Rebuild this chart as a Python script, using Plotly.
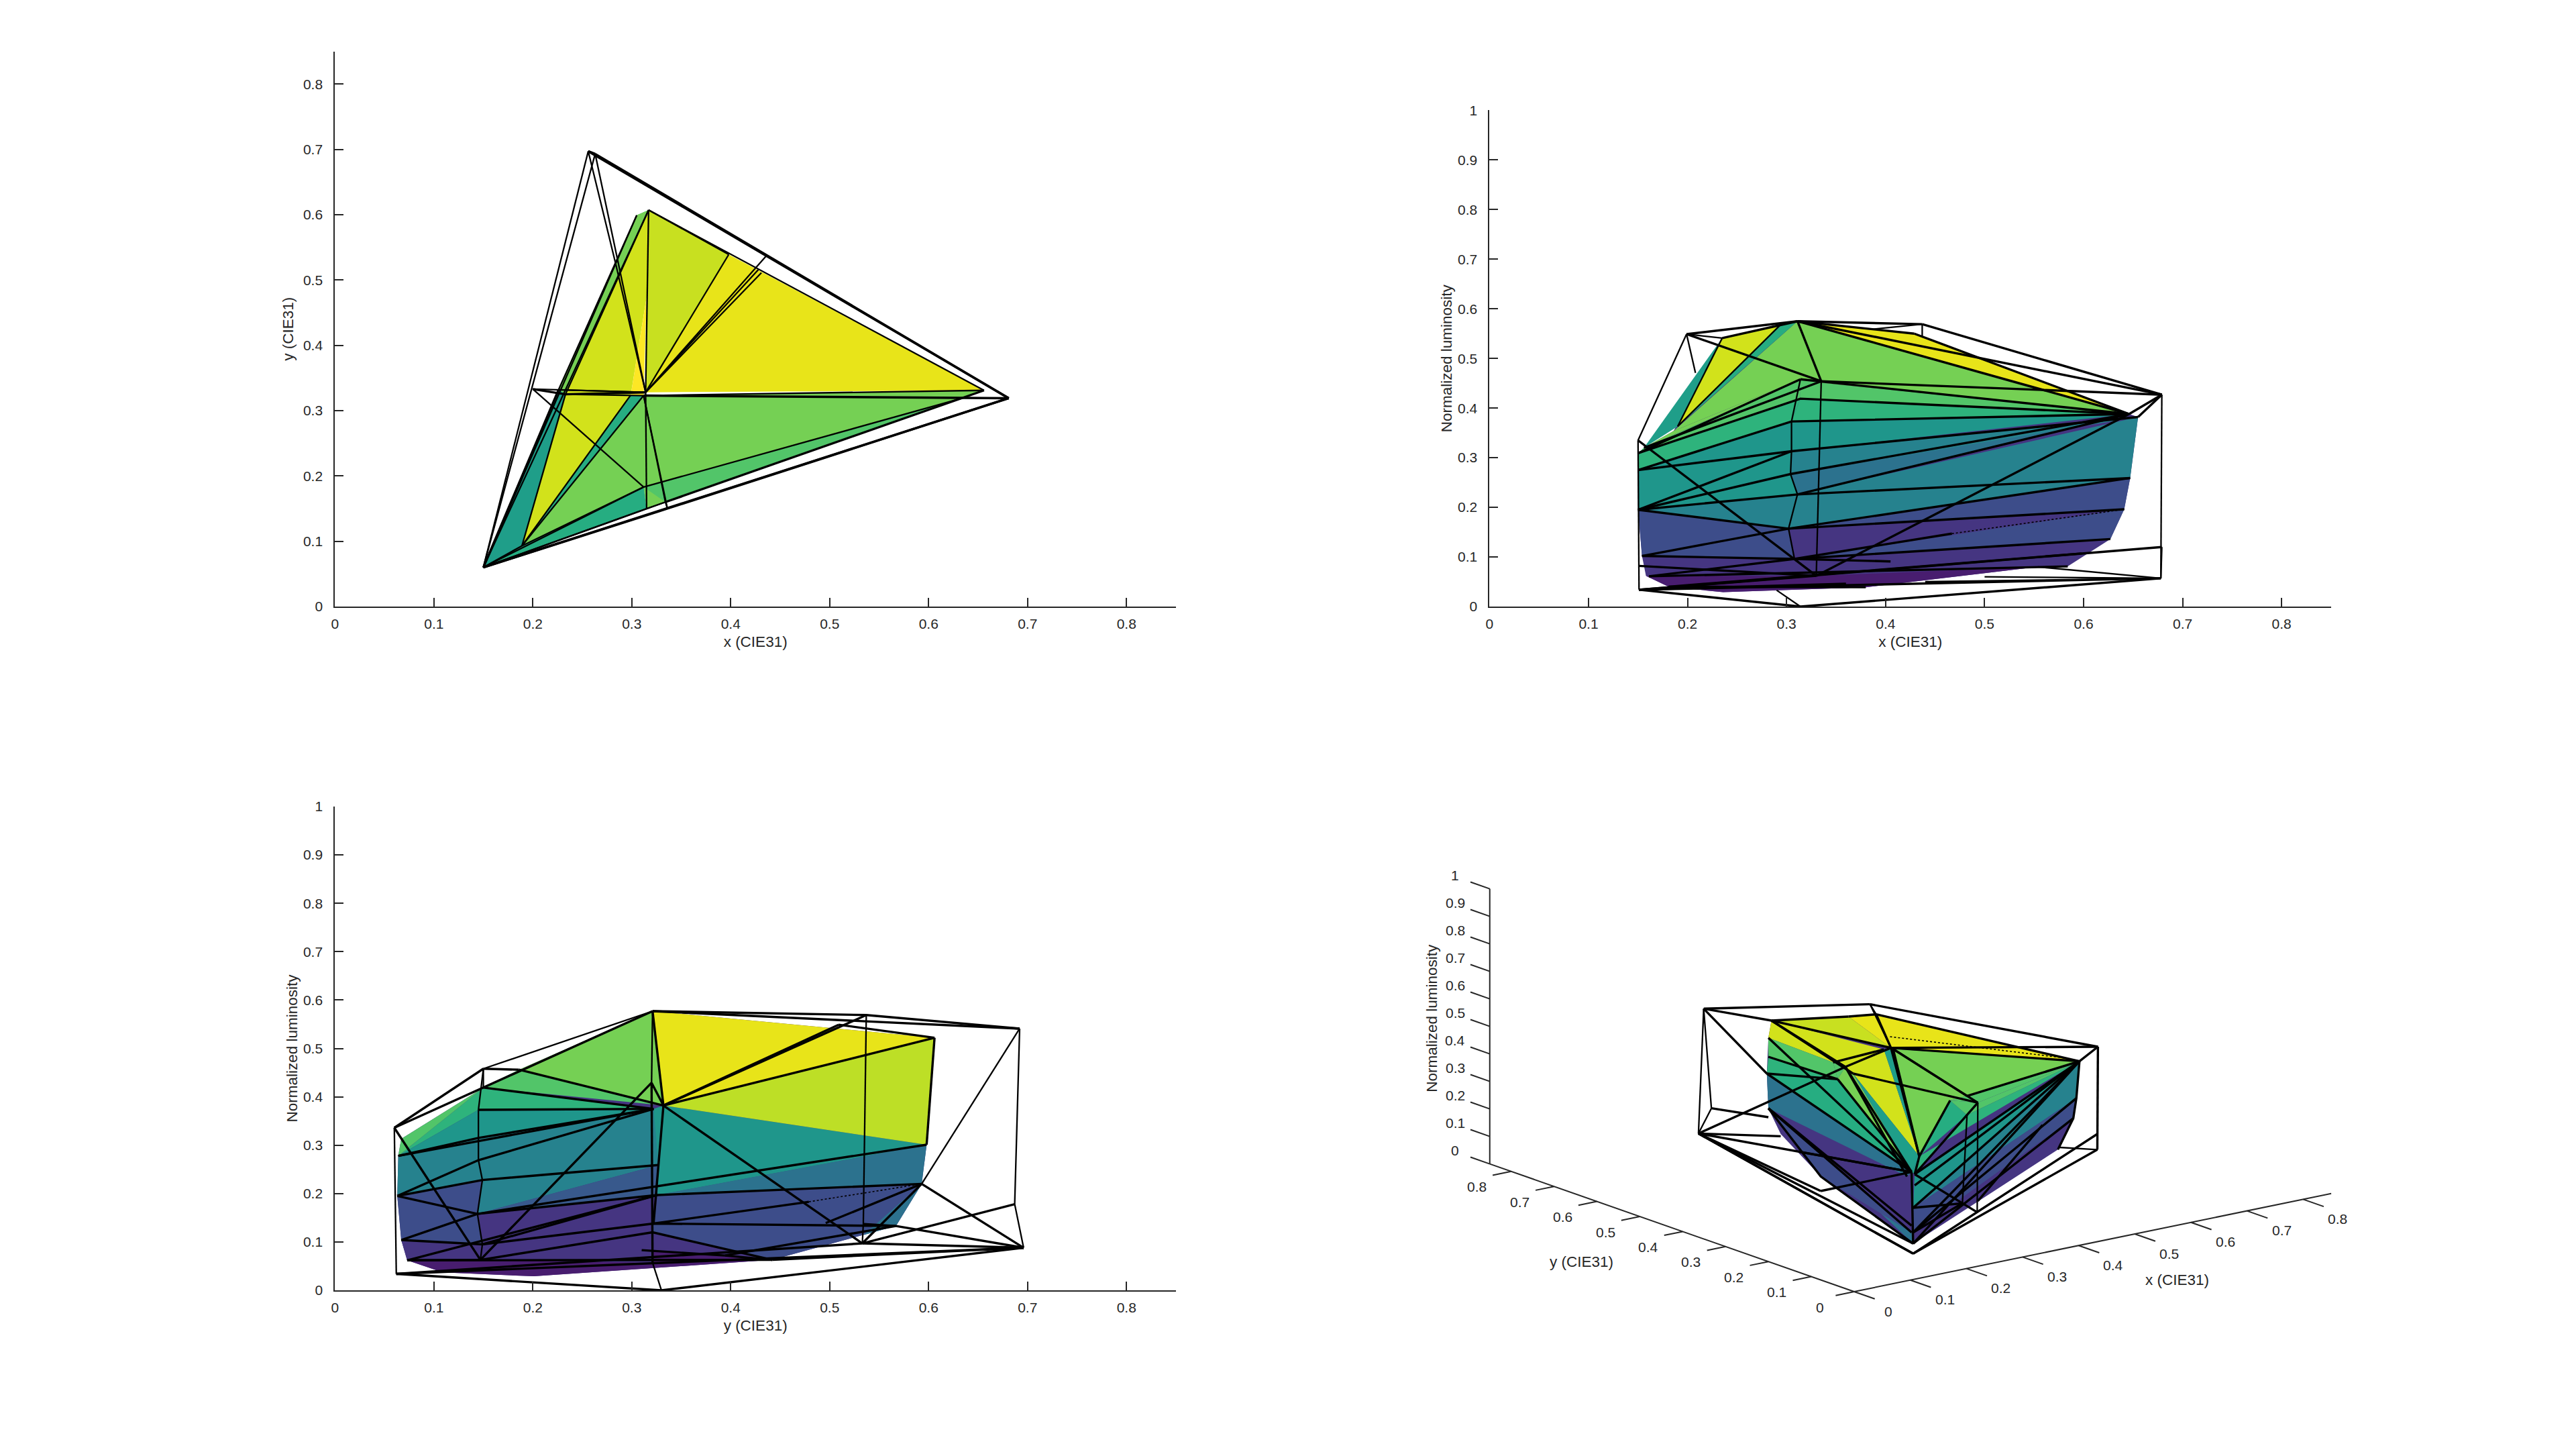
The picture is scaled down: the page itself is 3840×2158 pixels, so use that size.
import plotly.graph_objects as go

# Viridis steps used for the flat-shaded faces, indexed by face level.
face_palette = ["#481d6f", "#453581", "#3d4d8a", "#38598c", "#2c728e", "#26828e", "#1f968b", "#1f9e89",
                "#26ad81", "#2eb37c", "#52c569", "#75d054", "#bddf26", "#c8e020", "#d2e21b", "#e8e419", "#fde725"]

tick_values = [0, 0.1, 0.2, 0.3, 0.4, 0.5, 0.6, 0.7, 0.8]
luminosity_ticks = [0, 0.1, 0.2, 0.3, 0.4, 0.5, 0.6, 0.7, 0.8, 0.9, 1]

# ---- x/y chromaticity view ----
xy_points = {
    "B": (.150, .060), "B2": (.189, .093), "Ga": (.256, .697), "Gb": (.263, .693), "Gi": (.317, .607),
    "Gj": (.305, .599), "Gk": (.284, .523), "R": (.681, .319), "Ri": (.656, .331), "Rj": (.634, .319),
    "Wo": (.314, .328), "Wi": (.312, .323), "Yo": (.436, .537), "Yi": (.428, .516), "Yj": (.431, .511),
    "Yk": (.398, .539), "Co": (.200, .333), "Ci": (.233, .325), "Cj": (.226, .332), "Cv": (.299, .324),
    "Mo": (.336, .150), "Mi": (.334, .160), "Mj": (.315, .150), "Mk": (.312, .183), "Sy": (.315, .474),
}
xy_faces = [
    (7, "B Cj Gj Gi Ci B2"), (11, "Cj Gj Gi Ci"), (14, "B2 Ci Cv"), (8, "B2 Cv Wi"), (14, "Ci Gi Sy Cv"),
    (16, "Cv Sy Wi"), (13, "Gi Yk Wo Sy"), (15, "Yk Ri Wo"), (11, "Wi Ri Rj Mk B2"), (10, "Mk Rj Ri Mi Mj"),
    (11, "Mk Mi Mj"), (8, "B2 Mk Mj B"),
]
xy_thin = [
    "B Ga", "B Gb", "Ga Gk Wo", "Gb Wo", "Ga Gb", "Co Wo", "Co Mk", "Yo Wo", "Yi Wo", "Yj Wo", "Yk Wo", "Gi Wo",
    "Gi Ri", "Ri Wi", "Wi B2", "Cv B2", "Ci B2", "Ci Wi", "Cj Wo", "Wi Mi", "Wo Mj", "Wi Mo", "Mk Rj", "Mk B2",
    "B Mj", "B Mi", "B Mk", "Gi B", "Gj B", "Ci Gi", "Mj Mi", "Mi Mo", "Yk Gi", "B2 B", "Cj Gj",
]
xy_heavy = ["Gb R", "Ga Gb", "Ga Yo R", "Mo R", "R B", "Wi R", "Mi Ri", "Co Ci", "B Mo", "B Cj", "Ci Wo"]

# ---- x/luminosity view ----
xl_points = {
    "Bt": (.150, .335), "Bb": (.151, .034), "Cy": (.199, .549), "Wt": (.311, .575), "Yo": (.437, .569),
    "Ro": (.679, .427), "Rb": (.678, .057), "K": (.314, .000), "Rm": (.679, .120), "Gz": (.208, .471),
    "Yz": (.387, .559), "Yy": (.437, .545), "Kq": (.290, .033), "b": (.295, .570), "c": (.235, .541),
    "d": (.190, .363), "d2": (.186, .354), "e1": (.156, .320), "f": (.150, .309), "g": (.150, .275),
    "h": (.150, .195), "i": (.154, .102), "j": (.158, .062), "k": (.181, .040), "l": (.236, .029),
    "m": (.380, .039), "n": (.554, .080), "n2": (.584, .081), "o": (.627, .136), "p": (.641, .196),
    "q": (.647, .259), "r": (.655, .382), "s": (.646, .388), "t": (.429, .550), "v1": (.314, .458),
    "v2": (.335, .454), "v2b": (.335, .451), "v3": (.314, .419), "v4": (.305, .373), "v5": (.305, .313),
    "v6": (.304, .267), "v7": (.311, .226), "v8": (.302, .157), "v9": (.308, .096), "v10": (.330, .062),
    "i2": (.151, .082), "i3": (.161, .061), "x9": (.405, .091), "l2": (.598, .107), "w1": (.467, .147),
    "f1": (.500, .060), "f2": (.440, .050), "f3": (.360, .046),
}
xl_faces = [
    (1, "j k l m n n2 o p q r s t Wt b c d2 e1 f g h i"), (0, "j k l m n v10"), (2, "v9 p o"), (2, "h v8 v9 i"),
    (2, "v8 q p"), (5, "h v7 v8"), (5, "v7 q v8"), (5, "v7 r q"), (4, "v6 s v7"), (6, "h v6 v7"), (5, "v5 r v6"),
    (6, "g v5 v6 h"), (6, "v4 s v5"), (6, "g v4 v5"), (9, "v3 s v4"), (9, "f v3 v4 g"), (10, "v1 v2b s v3"),
    (10, "e1 v1 v3 f"), (11, "Wt s v2b v1 d2"), (11, "d2 v1 e1"), (8, "b Wt d"), (14, "c b d"), (7, "c d e1"),
    (15, "Wt t s"),
]
xl_thin = [
    "Bt Cy", "Cy Gz", "Yz Yo", "Yo Yy", "Bb Bt", "v1 v4 v5 v6 v7 v8 v9 v10", "v2 v10", "Kq K", "Rm Rb", "Ro Rb",
    "c Cy", "b d", "c d", "f1 Rb", "f2 Rb", "n Rb",
]
xl_heavy = [
    "Cy Wt", "Wt Yo", "Yo Ro", "Rb K", "K Bb", "Cy v2", "v2 Ro", "Wt v2", "Wt s", "Wt Ro", "Bt v10", "v10 s", "s Ro",
    "r Ro", "v2 e1", "f v3 s", "v1 s", "f v1", "g v4 s", "g v5 r", "h v5", "h v6 s", "h v7 s", "v7 q", "h v8 q",
    "i v8 p", "i v9 x9", "v9 o", "i3 n2", "Bb Rb", "Bb Rm", "Bb v10", "k m", "c Wt", "Wt t", "t s", "i2 v10", "v9 w1",
    "i3 v9", "k l2", "Bb f3",
]
xl_dotted = ["w1 p"]

# ---- y/luminosity view ----
yl_points = {
    "Bt": (.060, .336), "Bb": (.062, .034), "Ma": (.150, .458), "Wt": (.321, .577), "Yo": (.537, .569),
    "Go": (.692, .541), "Gb": (.696, .088), "K": (.330, .000), "Mb": (.533, .097), "Gm": (.687, .178),
    "Ym": (.534, .137), "Yi": (.509, .549), "Gi": (.606, .522), "S": (.332, .382), "S2": (.322, .375),
    "Gj": (.598, .301), "Gk": (.593, .220), "Gl": (.567, .133), "Gq": (.442, .063), "b1": (.201, .029),
    "b2": (.109, .037), "b3": (.073, .062), "b4": (.067, .104), "b5": (.063, .195), "b6": (.064, .278),
    "b7": (.067, .313), "m1": (.150, .419), "m2": (.186, .456), "m3": (.145, .373), "m4": (.145, .315),
    "m5": (.145, .269), "m6": (.149, .228), "m7": (.144, .158), "m8": (.149, .095), "m9": (.147, .063),
    "c1": (.320, .429), "c2": (.327, .259), "c3": (.326, .197), "c4": (.322, .138), "c5": (.321, .120),
    "c6": (.310, .083), "c7": (.321, .057), "Mc": (.534, .114), "c4m": (.479, .183), "Yn": (.496, .139),
    "z1": (.394, .072),
}
yl_faces = [
    (1, "Wt Gi Gj Gk Gl Gq b1 b2 b3 b4 b5 b6 b7 m1 m2"), (0, "b3 c6 Gq b1 b2"), (2, "c4 Gk Gl Gq c5"), (2, "c3 Gk c4"),
    (4, "c3 Gj Gk"), (4, "Gk Gl Mc"), (6, "S Gj c3 S2"), (12, "S Gi Gj"), (15, "Wt Gi S"), (11, "m2 Wt S"),
    (10, "m2 S m1"), (9, "m1 S2 m3 b6"), (10, "m1 b6 b7"), (6, "m3 S2 m4 b6"), (5, "m4 S2 m5 b5 b6"), (5, "m5 S2 c2 m6"),
    (5, "b5 m5 m6"), (5, "m6 c2 m7"), (3, "c2 c3 m7"), (2, "b5 m6 m7 m8 b4"), (1, "m7 c3 c5 m8"), (2, "c3 c4 c5"),
    (1, "b4 m8 m9 b3"), (1, "c5 c7 m9 m8"),
]
yl_thin = ["Bt Bb", "Ma m1", "Ym Yo", "Mb Ym", "Go Gm Gb", "Go Gk", "Ma m3 m4 m5 m6 m7 m8 m9", "K c7", "Wt c1", "Ma Wt"]
yl_heavy = [
    "Bt Ma", "Bt Wt", "Wt Yo Go", "Wt Go", "Gb K", "K Bb", "Wt S", "Yo S", "Yi S", "Gi S", "c1 S", "m2 S", "m1 S2",
    "m3 S2", "b6 S2", "b6 m4", "m4 S2", "b5 m5 S2", "b5 m6 c2", "m7 c3 Gk", "b5 m7", "m7 Gj", "b4 m8", "b4 m7",
    "m8 c4 Gl", "m8 c3", "m9 c5 Gq", "b3 c3", "b3 m9", "c1 c7", "S c4", "S Mb", "Bt m9", "m9 c1", "Mb Gb", "Gm Mb",
    "Gk Gb", "Gl Gb", "Gk Mb", "Bb Gb", "Bb Mb", "Yi Gi", "Gi Gj", "b3 Gq", "Ym Gl", "m2 Ma", "c4 c4m", "Yn Gk", "c6 z1",
    "z1 Gl", "z1 Gq", "Gq Gb",
]
yl_dotted = ["c4m Gk"]

# ---- oblique view, vertices given in view-plane units ----
obl_points = {
    "Oa": (130, 130), "Ob": (670, 110), "Oc": (1410, 300), "Od": (1408, 760), "Oe": (810, 1225), "Of": (113, 688),
    "Og": (155, 575), "Oh": (1408, 690), "Oi": (1018, 1040), "Oj": (1285, 750), "A": (350, 183), "B": (600, 165),
    "C": (690, 155), "D": (1350, 365), "E": (1340, 530), "F": (1330, 620), "G": (1280, 760), "H": (810, 1180),
    "I": (510, 880), "J": (380, 690), "Kk": (340, 575), "L": (335, 420), "M": (340, 260), "W": (738, 305),
    "W2": (715, 312), "W3": (745, 310), "P": (590, 390), "Q": (565, 445), "Q2": (615, 420), "Q3": (550, 370),
    "T": (805, 860), "T2": (815, 870), "U": (830, 790), "V": (985, 605), "V2": (1020, 550), "V3": (930, 540),
    "V4": (985, 520), "T3": (810, 1020), "T4": (810, 1130), "T5": (815, 920), "N1": (805, 1100), "N2": (805, 1130),
    "S1": (340, 345), "R1": (970, 1000), "Tn": (790, 880), "Da": (735, 255), "Db": (1300, 350), "Ea": (510, 945),
    "Eb": (440, 770), "Ec": (340, 615), "Ed": (380, 700), "Ee": (1020, 990), "Ef": (1230, 650),
}
obl_faces = [
    (1, "A B C D E F G H I J Kk L M"), (15, "B C D W"), (13, "A B W"), (14, "A W2 P Q3 M"), (14, "W2 U Q2 P"),
    (10, "Q3 P Q"), (11, "P Q2 T Q"), (7, "W2 W3 U"), (7, "Q2 U T"), (11, "W3 D V4 V3 U"), (8, "V3 V U"), (10, "V4 V2 V3"),
    (10, "D V4 V2"), (10, "V3 V2 V"), (10, "D V2 V"), (9, "D V T2 U"), (7, "U T2 T"), (6, "D T2 T3"), (5, "D T3 E"),
    (2, "E T3 T4 F"), (10, "M Q3 Q S1"), (9, "S1 Q L"), (8, "L Q T"), (4, "L T Tn Kk"), (4, "Kk H N2"), (2, "Kk N2 I"),
]
obl_thin = ["Oa Og Of", "Oa Of", "Ob W", "Od Oh", "V2 Oi", "V R1", "Oi Oe", "Oh Oi", "Oj Od", "Ob C"]
obl_heavy = [
    "Oa Ob", "Ob Oc", "Oc Od", "Od Oe", "Oe Of", "Oa L", "Oa A", "Og Ec", "Of P", "Of Ed", "Of T", "Of Ea", "Of H", "Of Oe",
    "C W", "W Oc", "W D", "V2 Q2", "V2 W3", "V2 T2", "W3 V4", "D V4", "V3 U", "A W", "A P", "A Q2", "M T", "S1 Q", "L T",
    "L Q", "Q T", "P Tn", "P T", "P W", "Q3 W2", "U W", "W3 U", "Ea T", "Eb T", "Kk N2", "Kk N1", "T H", "D T2",
    "D T5", "D T3", "D T4", "D H", "E T4", "F H", "T3 R1", "T4 R1", "T2 Oi", "Ef Ee", "A B", "B C", "C D", "D Oc",
    "Oh Oe", "D E F G", "Kk I H", "T2 U",
]
obl_dotted = ["Da Db"]

# 3D axis box of the oblique view: origin and the drawn length of one data unit.
axis_origin = (618.6, 1395)
axis_unit_x = (1822, -516)
axis_unit_y = (-1392, -672)
axis_unit_z = (0, -1230)

W, H = 3840, 2158
ink = "#262626"
tick_font = dict(family="Liberation Sans", size=21, color=ink)
title_font = dict(family="Liberation Sans", size=22.5, color=ink)


def dom_x(left, right):
    return [left / W, right / W]


def dom_y(bottom, top):
    return [1 - bottom / H, 1 - top / H]


def draw_mesh(fig, points, faces, thin, heavy, dotted, axes):
    xa, ya = axes
    for level, names in faces:
        ids = names.split()
        fig.add_trace(go.Scatter(
            x=[points[n][0] for n in ids] + [points[ids[0]][0]],
            y=[points[n][1] for n in ids] + [points[ids[0]][1]],
            mode="lines", fill="toself", fillcolor=face_palette[level], line=dict(width=0),
            hoverinfo="skip", showlegend=False, xaxis=xa, yaxis=ya))
    for paths, width, dash in ((thin, 2.3, "solid"), (heavy, 3.4, "solid"), (dotted, 1.6, "dot")):
        xs, ys = [], []
        for path in paths:
            for n in path.split():
                xs.append(points[n][0])
                ys.append(points[n][1])
            xs.append(None)
            ys.append(None)
        if xs:
            fig.add_trace(go.Scatter(x=xs, y=ys, mode="lines", line=dict(color="black", width=width, dash=dash),
                                     hoverinfo="skip", showlegend=False, xaxis=xa, yaxis=ya, connectgaps=False))


def axis_style(ticks, top, title, standoff, anchor, label_gap):
    return dict(range=[0, top], tickvals=ticks, ticktext=[f"{v:g}" for v in ticks], ticks="inside", ticklen=13,
                tickwidth=2, tickcolor=ink, showline=True, linewidth=2, linecolor=ink, showgrid=False, zeroline=False,
                anchor=anchor, tickfont=tick_font, ticklabelstandoff=label_gap,
                title=dict(text=title, font=title_font, standoff=standoff))


fig = go.Figure()
draw_mesh(fig, xy_points, xy_faces, xy_thin, xy_heavy, [], ("x", "y"))
draw_mesh(fig, xl_points, xl_faces, xl_thin, xl_heavy, xl_dotted, ("x2", "y2"))
draw_mesh(fig, yl_points, yl_faces, yl_thin, yl_heavy, yl_dotted, ("x3", "y3"))
draw_mesh(fig, obl_points, obl_faces, obl_thin, obl_heavy, obl_dotted, ("x4", "y4"))


def project(x, y, z):
    return (axis_origin[0] + x * axis_unit_x[0] + y * axis_unit_y[0] + z * axis_unit_z[0],
            axis_origin[1] + x * axis_unit_x[1] + y * axis_unit_y[1] + z * axis_unit_z[1])


# Axis lines and tick marks of the oblique view.
ax_x, ax_y = [], []


def segment(a, b):
    ax_x.extend([a[0], b[0], None])
    ax_y.extend([a[1], b[1], None])


segment(project(0, 0, 0), project(0.85, 0, 0))
segment(project(0, 0, 0), project(0, 0.85, 0))
segment(project(0, 0.85, 0), project(0, 0.85, 1))
annotations = []


def tick_label(pos, dx, dy, value):
    annotations.append(dict(x=pos[0] + dx, y=pos[1] + dy, xref="x4", yref="y4", text=f"{value:g}", showarrow=False,
                            font=tick_font, xanchor="center", yanchor="middle"))


for v in tick_values:
    segment(project(v, 0, 0), project(v, -0.048, 0))
    tick_label(project(v, 0, 0), 112, 87, v)
    segment(project(0, v, 0), project(-0.033, v, 0))
    tick_label(project(0, v, 0), -112, 69, v)
for v in luminosity_ticks:
    segment(project(0, 0.85, v), project(0, 0.895, v))
    tick_label(project(0, 0.85, v), -112, -60, v)
fig.add_trace(go.Scatter(x=ax_x, y=ax_y, mode="lines", line=dict(color=ink, width=2), hoverinfo="skip", showlegend=False,
                         xaxis="x4", yaxis="y4"))


def paper_label(px, py, text, angle=0):
    annotations.append(dict(x=px / W, y=1 - py / H, xref="paper", yref="paper", text=text, showarrow=False,
                            font=title_font, textangle=angle, xanchor="center", yanchor="middle"))


paper_label(3245, 1907.6, "x (CIE31)")
paper_label(2357, 1880, "y (CIE31)")
paper_label(2135, 1517.7, "Normalized luminosity", -90)

fig.update_layout(
    width=W, height=H, autosize=False, margin=dict(l=0, r=0, t=0, b=0, autoexpand=False), paper_bgcolor="white",
    plot_bgcolor="rgba(0,0,0,0)", showlegend=False, annotations=annotations,
    xaxis=dict(domain=dom_x(499.3, 1753), **axis_style(tick_values, 0.85, "x (CIE31)", 8, "y", 6)),
    yaxis=dict(domain=dom_y(904, 76.5), **axis_style(tick_values, 0.85, "y (CIE31)", 8, "x", 12)),
    xaxis2=dict(domain=dom_x(2220.4, 3475), **axis_style(tick_values, 0.85, "x (CIE31)", 8, "y2", 6)),
    yaxis2=dict(domain=dom_y(904, 164.4), **axis_style(luminosity_ticks, 1, "Normalized luminosity", 2, "x2", 12)),
    xaxis3=dict(domain=dom_x(499.3, 1753), **axis_style(tick_values, 0.85, "y (CIE31)", 8, "y3", 6)),
    yaxis3=dict(domain=dom_y(1923, 1202), **axis_style(luminosity_ticks, 1, "Normalized luminosity", 2, "x3", 12)),
    xaxis4=dict(domain=dom_x(2100, 3550), range=[-827.6, 2330.5], visible=False),
    yaxis4=dict(domain=dom_y(2000, 1280), range=[1620, -540], visible=False),
)
fig.write_html("out.html")
